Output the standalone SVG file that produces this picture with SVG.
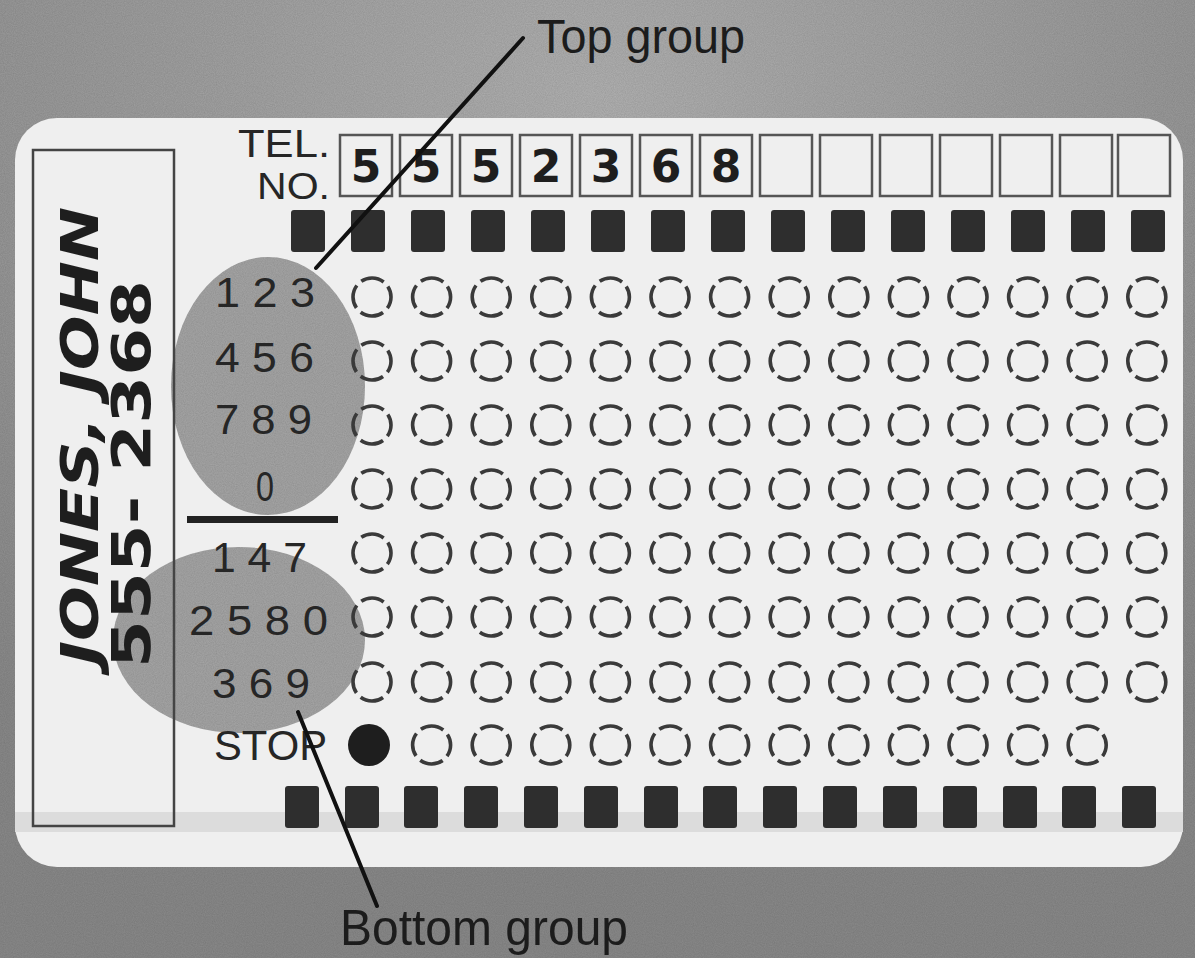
<svg xmlns="http://www.w3.org/2000/svg" width="1195" height="958" viewBox="0 0 1195 958">
<defs>
<filter id="grain" x="0" y="0" width="100%" height="100%">
<feTurbulence type="fractalNoise" baseFrequency="0.9" numOctaves="2" seed="3" result="n"/>
<feColorMatrix in="n" type="matrix" values="0 0 0 0 0.5  0 0 0 0 0.5  0 0 0 0 0.5  0 0 0 0.55 0" result="g"/>
<feComposite in="g" in2="SourceGraphic" operator="in" result="gm"/>
<feBlend in="SourceGraphic" in2="gm" mode="multiply"/>
</filter>
<radialGradient id="bgGrad" cx="0.5" cy="0.1" r="0.8">
<stop offset="0" stop-color="#b2b2b2"/>
<stop offset="1" stop-color="#8a8a8a"/>
</radialGradient>
<circle id="hole" r="19" class="hole"/>
<rect id="sq" width="34" height="42" rx="3" class="sq"/>
<rect id="box" width="52" height="61" class="box"/>
</defs>
<style>
.hole{fill:none;stroke:#3a3a3a;stroke-width:3.6;stroke-dasharray:23.85 6;stroke-dashoffset:11.95}
.sq{fill:#2e2e2e}
.box{fill:none;stroke:#555;stroke-width:2.5}
.lbl{font-family:"Liberation Sans",Arial,sans-serif;fill:#262626}
.hand{font-family:"DejaVu Sans","Liberation Sans",sans-serif;font-weight:bold;fill:#1e1e1e}
.blob{fill:#a6a6a6}
.leader{stroke:#111;stroke-width:4;fill:none;stroke-linecap:round}
.cap{font-family:"Liberation Sans",Arial,sans-serif;fill:#1c1c1c}
</style>
<g id="background">
<rect x="0" y="0" width="1195" height="958" fill="url(#bgGrad)" filter="url(#grain)"/>
</g>
<g id="card">
<rect x="15" y="118" width="1168" height="749" rx="42" fill="#efefef"/>
<rect x="15" y="812" width="1168" height="20" fill="#dcdcdc"/>
</g>
<g id="blobs">
<ellipse class="blob" cx="268" cy="386" rx="97" ry="129" filter="url(#grain)"/>
<ellipse class="blob" cx="239" cy="640" rx="126" ry="93" filter="url(#grain)"/>
</g>
<g id="name-box">
<rect x="33" y="150" width="141" height="676" fill="none" stroke="#444" stroke-width="2.5"/>
<text class="hand" font-size="52" font-weight="600" transform="translate(98,665) rotate(-90)" textLength="458" lengthAdjust="spacingAndGlyphs" font-style="oblique">JONES, JOHN</text>
<text class="hand" font-size="54" font-weight="600" transform="translate(150,668) rotate(-90)" textLength="388" lengthAdjust="spacingAndGlyphs">555- 2368</text>
</g>
<g id="tel-label">
<text class="lbl" x="238" y="157" font-size="38" textLength="92" lengthAdjust="spacingAndGlyphs">TEL.</text>
<text class="lbl" x="257" y="199" font-size="37" textLength="73" lengthAdjust="spacingAndGlyphs">NO.</text>
</g>
<g id="phone-boxes">
<use href="#box" x="340" y="135"/><use href="#box" x="400" y="135"/><use href="#box" x="460" y="135"/><use href="#box" x="520" y="135"/><use href="#box" x="580" y="135"/><use href="#box" x="640" y="135"/><use href="#box" x="700" y="135"/><use href="#box" x="760" y="135"/><use href="#box" x="820" y="135"/><use href="#box" x="880" y="135"/><use href="#box" x="940" y="135"/><use href="#box" x="1000" y="135"/><use href="#box" x="1060" y="135"/><use href="#box" x="1118" y="135"/>
<g class="hand" font-size="44" text-anchor="middle">
<text x="366" y="182">5</text><text x="426" y="182">5</text><text x="486" y="182">5</text><text x="546" y="182">2</text><text x="606" y="182">3</text><text x="666" y="182">6</text><text x="726" y="182">8</text>
</g>
</g>
<g id="sprockets-top">
<use href="#sq" x="291" y="210"/><use href="#sq" x="351" y="210"/><use href="#sq" x="411" y="210"/><use href="#sq" x="471" y="210"/><use href="#sq" x="531" y="210"/><use href="#sq" x="591" y="210"/><use href="#sq" x="651" y="210"/><use href="#sq" x="711" y="210"/><use href="#sq" x="771" y="210"/><use href="#sq" x="831" y="210"/><use href="#sq" x="891" y="210"/><use href="#sq" x="951" y="210"/><use href="#sq" x="1011" y="210"/><use href="#sq" x="1071" y="210"/><use href="#sq" x="1131" y="210"/>
</g>
<g id="sprockets-bottom">
<use href="#sq" x="285" y="786"/><use href="#sq" x="345" y="786"/><use href="#sq" x="404" y="786"/><use href="#sq" x="464" y="786"/><use href="#sq" x="524" y="786"/><use href="#sq" x="584" y="786"/><use href="#sq" x="644" y="786"/><use href="#sq" x="703" y="786"/><use href="#sq" x="763" y="786"/><use href="#sq" x="823" y="786"/><use href="#sq" x="883" y="786"/><use href="#sq" x="943" y="786"/><use href="#sq" x="1003" y="786"/><use href="#sq" x="1062" y="786"/><use href="#sq" x="1122" y="786"/>
</g>
<g id="row-labels" class="lbl" font-size="42">
<text x="215" y="307" textLength="100" lengthAdjust="spacingAndGlyphs">1 2 3</text>
<text x="215" y="372" textLength="99" lengthAdjust="spacingAndGlyphs">4 5 6</text>
<text x="215" y="434" textLength="97" lengthAdjust="spacingAndGlyphs">7 8 9</text>
<text x="256" y="501" textLength="18" lengthAdjust="spacingAndGlyphs">0</text>
<text x="212" y="572" textLength="95" lengthAdjust="spacingAndGlyphs">1 4 7</text>
<text x="189" y="635" textLength="139" lengthAdjust="spacingAndGlyphs">2 5 8 0</text>
<text x="212" y="698" textLength="98" lengthAdjust="spacingAndGlyphs">3 6 9</text>
<text x="214" y="760" textLength="113" lengthAdjust="spacingAndGlyphs">STOP</text>
</g>
<g id="divider">
<rect x="187" y="516" width="151" height="7" fill="#222"/>
</g>
<g id="holes">
<g id="row1"><use href="#hole" x="372" y="297"/><use href="#hole" x="431.6" y="297"/><use href="#hole" x="491.2" y="297"/><use href="#hole" x="550.8" y="297"/><use href="#hole" x="610.4" y="297"/><use href="#hole" x="670" y="297"/><use href="#hole" x="729.6" y="297"/><use href="#hole" x="789.2" y="297"/><use href="#hole" x="848.8" y="297"/><use href="#hole" x="908.4" y="297"/><use href="#hole" x="968" y="297"/><use href="#hole" x="1027.6" y="297"/><use href="#hole" x="1087.2" y="297"/><use href="#hole" x="1146.8" y="297"/></g>
<g id="row2"><use href="#hole" x="372" y="361"/><use href="#hole" x="431.6" y="361"/><use href="#hole" x="491.2" y="361"/><use href="#hole" x="550.8" y="361"/><use href="#hole" x="610.4" y="361"/><use href="#hole" x="670" y="361"/><use href="#hole" x="729.6" y="361"/><use href="#hole" x="789.2" y="361"/><use href="#hole" x="848.8" y="361"/><use href="#hole" x="908.4" y="361"/><use href="#hole" x="968" y="361"/><use href="#hole" x="1027.6" y="361"/><use href="#hole" x="1087.2" y="361"/><use href="#hole" x="1146.8" y="361"/></g>
<g id="row3"><use href="#hole" x="372" y="425"/><use href="#hole" x="431.6" y="425"/><use href="#hole" x="491.2" y="425"/><use href="#hole" x="550.8" y="425"/><use href="#hole" x="610.4" y="425"/><use href="#hole" x="670" y="425"/><use href="#hole" x="729.6" y="425"/><use href="#hole" x="789.2" y="425"/><use href="#hole" x="848.8" y="425"/><use href="#hole" x="908.4" y="425"/><use href="#hole" x="968" y="425"/><use href="#hole" x="1027.6" y="425"/><use href="#hole" x="1087.2" y="425"/><use href="#hole" x="1146.8" y="425"/></g>
<g id="row4"><use href="#hole" x="372" y="489"/><use href="#hole" x="431.6" y="489"/><use href="#hole" x="491.2" y="489"/><use href="#hole" x="550.8" y="489"/><use href="#hole" x="610.4" y="489"/><use href="#hole" x="670" y="489"/><use href="#hole" x="729.6" y="489"/><use href="#hole" x="789.2" y="489"/><use href="#hole" x="848.8" y="489"/><use href="#hole" x="908.4" y="489"/><use href="#hole" x="968" y="489"/><use href="#hole" x="1027.6" y="489"/><use href="#hole" x="1087.2" y="489"/><use href="#hole" x="1146.8" y="489"/></g>
<g id="row5"><use href="#hole" x="372" y="553"/><use href="#hole" x="431.6" y="553"/><use href="#hole" x="491.2" y="553"/><use href="#hole" x="550.8" y="553"/><use href="#hole" x="610.4" y="553"/><use href="#hole" x="670" y="553"/><use href="#hole" x="729.6" y="553"/><use href="#hole" x="789.2" y="553"/><use href="#hole" x="848.8" y="553"/><use href="#hole" x="908.4" y="553"/><use href="#hole" x="968" y="553"/><use href="#hole" x="1027.6" y="553"/><use href="#hole" x="1087.2" y="553"/><use href="#hole" x="1146.8" y="553"/></g>
<g id="row6"><use href="#hole" x="372" y="617"/><use href="#hole" x="431.6" y="617"/><use href="#hole" x="491.2" y="617"/><use href="#hole" x="550.8" y="617"/><use href="#hole" x="610.4" y="617"/><use href="#hole" x="670" y="617"/><use href="#hole" x="729.6" y="617"/><use href="#hole" x="789.2" y="617"/><use href="#hole" x="848.8" y="617"/><use href="#hole" x="908.4" y="617"/><use href="#hole" x="968" y="617"/><use href="#hole" x="1027.6" y="617"/><use href="#hole" x="1087.2" y="617"/><use href="#hole" x="1146.8" y="617"/></g>
<g id="row7"><use href="#hole" x="372" y="682"/><use href="#hole" x="431.6" y="682"/><use href="#hole" x="491.2" y="682"/><use href="#hole" x="550.8" y="682"/><use href="#hole" x="610.4" y="682"/><use href="#hole" x="670" y="682"/><use href="#hole" x="729.6" y="682"/><use href="#hole" x="789.2" y="682"/><use href="#hole" x="848.8" y="682"/><use href="#hole" x="908.4" y="682"/><use href="#hole" x="968" y="682"/><use href="#hole" x="1027.6" y="682"/><use href="#hole" x="1087.2" y="682"/><use href="#hole" x="1146.8" y="682"/></g>
<g id="row-stop"><circle cx="369" cy="745" r="21" fill="#1e1e1e"/><use href="#hole" x="431.6" y="745"/><use href="#hole" x="491.2" y="745"/><use href="#hole" x="550.8" y="745"/><use href="#hole" x="610.4" y="745"/><use href="#hole" x="670" y="745"/><use href="#hole" x="729.6" y="745"/><use href="#hole" x="789.2" y="745"/><use href="#hole" x="848.8" y="745"/><use href="#hole" x="908.4" y="745"/><use href="#hole" x="968" y="745"/><use href="#hole" x="1027.6" y="745"/><use href="#hole" x="1087.2" y="745"/></g>
</g>
<g id="connectors">
<line class="leader" x1="316" y1="268" x2="523" y2="38"/>
<line class="leader" x1="298" y1="712" x2="377" y2="906"/>
</g>
<g id="label-top">
<text class="cap" x="537" y="53" font-size="48" textLength="208" lengthAdjust="spacingAndGlyphs">Top group</text>
</g>
<g id="label-bottom">
<text class="cap" x="340" y="945" font-size="50" textLength="288" lengthAdjust="spacingAndGlyphs">Bottom group</text>
</g>
</svg>
